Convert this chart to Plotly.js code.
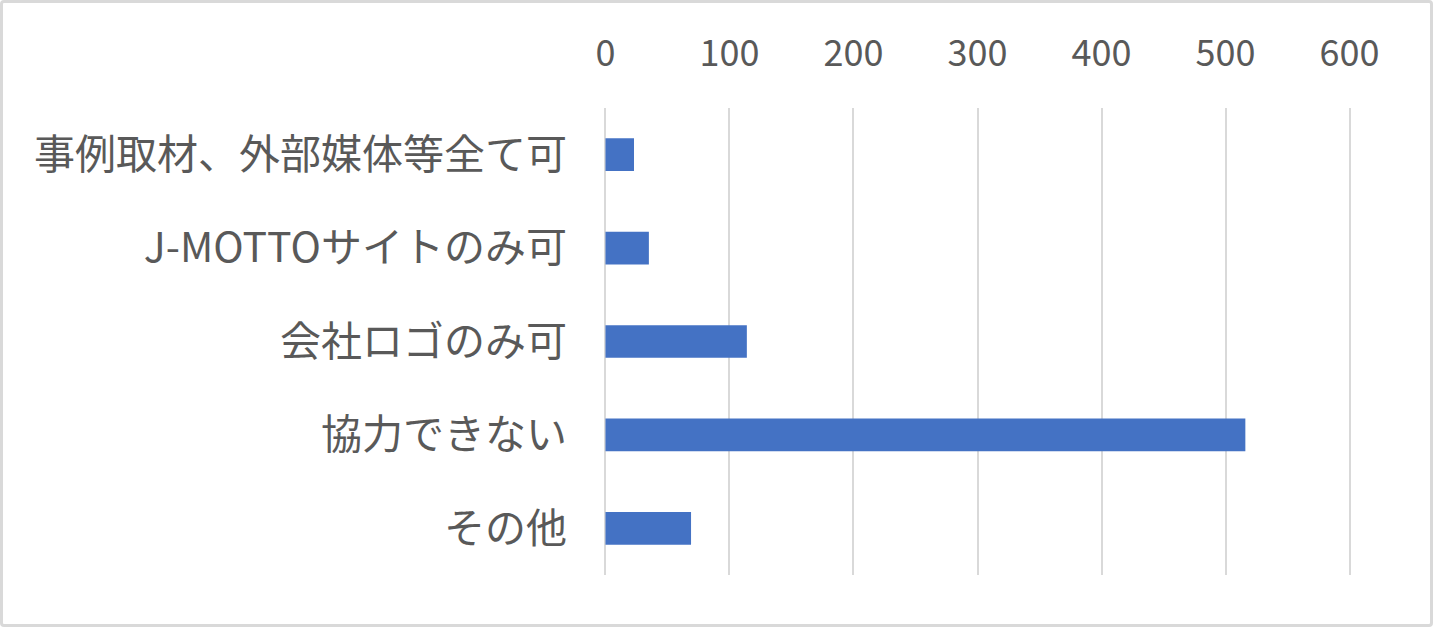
<!DOCTYPE html>
<html>
<head>
<meta charset="utf-8">
<script src="https://cdn.plot.ly/plotly-3.0.1.min.js"></script>
<style>
  html, body { margin: 0; padding: 0; background: #ffffff; }
  #wrap { position: relative; width: 1433px; height: 627px; }
  #chart { position: absolute; left: 0; top: 0; width: 1433px; height: 627px; }
  #frame { position: absolute; left: 0; top: 0; width: 1433px; height: 627px;
           box-sizing: border-box; border: 3px solid #d9d9d9; border-radius: 4px;
           pointer-events: none; }
</style>
</head>
<body>
<div id="wrap">
  <div id="chart"></div>
  <div id="frame"></div>
</div>
<script>
// answers, listed top to bottom as in the chart
const categories = ['事例取材、外部媒体等全て可', 'J-MOTTOサイトのみ可', '会社ロゴのみ可', '協力できない', 'その他'];
const counts = [23, 35, 114, 516, 69];
const tickValues = [0, 100, 200, 300, 400, 500, 600];

const textColor = '#595959';
const gridColor = '#d9d9d9';

var data = [
    {
        type: 'bar',
        orientation: 'h',
        y: categories,
        x: counts,
        marker: { color: '#4472c4' },
        hoverinfo: 'x+y'
    }
];

// range padded by 2 so plotly doesn't clip the 0 and 600 gridlines at the edges
var layout = {
    width: 1433,
    height: 627,
    margin: { l: 603, r: 81, t: 108, b: 51.5, pad: 0 },
    paper_bgcolor: '#ffffff',
    plot_bgcolor: '#ffffff',
    font: { family: '"Noto Sans CJK JP", "Noto Sans", sans-serif', size: 38, color: textColor },
    bargap: 0.65,
    showlegend: false,
    xaxis: {
        side: 'top',
        range: [-2, 602],
        tickvals: tickValues,
        ticktext: tickValues.map(String),
        showgrid: true,
        gridcolor: gridColor,
        gridwidth: 2,
        zeroline: false,
        showline: false,
        ticks: '',
        ticklabelstandoff: 34,
        tickfont: { size: 36, color: textColor }
    },
    yaxis: {
        type: 'category',
        autorange: 'reversed',
        showgrid: false,
        zeroline: false,
        showline: false,
        ticks: '',
        ticklabelstandoff: 35,
        tickfont: { size: 41, color: textColor }
    }
};

Plotly.newPlot('chart', data, layout, { displayModeBar: false, staticPlot: true });
</script>
</body>
</html>
